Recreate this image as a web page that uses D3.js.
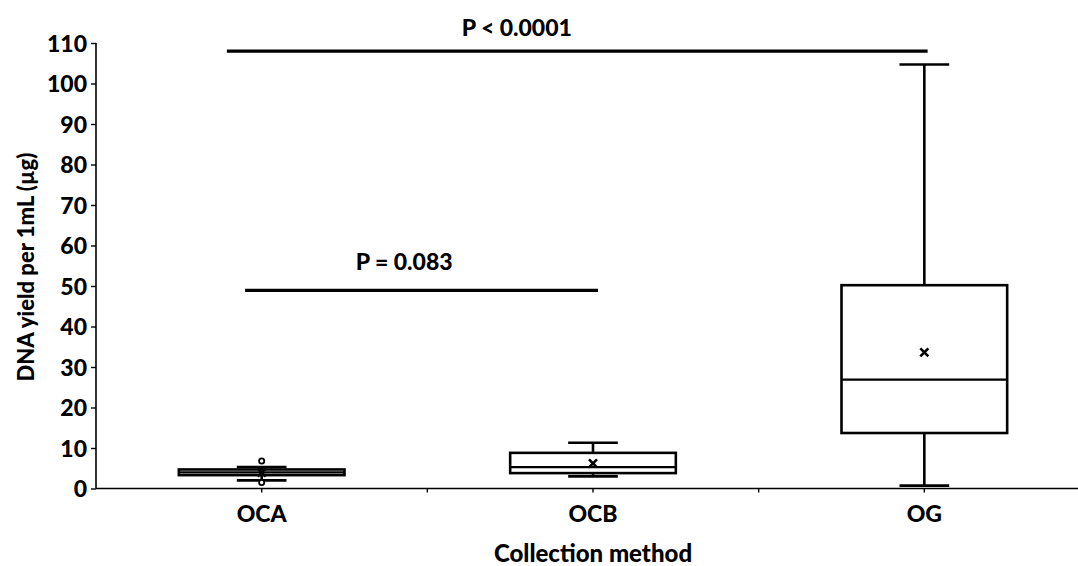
<!DOCTYPE html>
<html>
<head>
<meta charset="utf-8">
<script src="https://cdn.jsdelivr.net/npm/d3@7"></script>
<style>
  html, body { margin: 0; padding: 0; background: #fff; }
  svg { display: block; }
  text { font-family: Lato, "Open Sans", sans-serif; font-weight: bold; fill: #000; }
</style>
</head>
<body>
<svg id="chart" width="1078" height="566"></svg>
<script>
// ---- data ----
const categories = ["OCA", "OCB", "OG"];
const whiskerLow  = [2.0, 3.0, 0.7];
const q1          = [3.3, 3.8, 13.7];
const median      = [4.0, 5.3, 26.9];
const q3          = [4.7, 8.8, 50.2];
const whiskerHigh = [5.3, 11.3, 104.7];
const means       = [3.9, 6.2, 33.6];
const outliers    = [[6.8, 1.5], [], []];
const yTicks      = [0, 10, 20, 30, 40, 50, 60, 70, 80, 90, 100, 110];
const bracketLabels = ["P < 0.0001", "P = 0.083"];
const bracketFrom   = ["OCA", "OCA"];
const bracketTo     = ["OG", "OCB"];
const bracketLevel  = [108.0, 48.9];
const xTitle = "Collection method";
const yTitle = "DNA yield per 1mL (\u00b5g)";

(function () {
// ---- layout ----
const svg = d3.select("#chart");
const mLeft = 96, mRight = 1090, mTop = 43, mBottom = 488.5;

const x = d3.scaleBand().domain(categories).range([mLeft, mRight]).padding(0);
const y = d3.scaleLinear().domain([0, 110]).range([mBottom, mTop]);
const bw = x.bandwidth();
const cx = c => x(c) + bw / 2;

// axes
const yAxis = svg.append("g").attr("transform", `translate(${mLeft},0)`)
  .call(d3.axisLeft(y).tickValues(yTicks).tickSize(5).tickPadding(4));
yAxis.select(".domain").attr("stroke-width", 1.6).attr("d", `M0,${mBottom}V${mTop}`);
yAxis.selectAll(".tick line").attr("stroke-width", 1.4);
yAxis.selectAll(".tick text").style("font-size", "23px").style("font-weight", "900").attr("dy", "0.36em");

const xAxis = svg.append("g").attr("transform", `translate(0,${mBottom})`)
  .call(d3.axisBottom(x).tickSize(4).tickPadding(13));
xAxis.select(".domain").attr("stroke-width", 1.6).attr("d", `M${mLeft},0H${mRight}`);
xAxis.selectAll(".tick line").attr("stroke-width", 1.4);
xAxis.selectAll(".tick text").style("font-size", "23px").style("font-weight", "900");
xAxis.selectAll(".bt").data(categories.slice(1)).enter().append("line")
  .attr("x1", d => x(d)).attr("x2", d => x(d)).attr("y1", 0).attr("y2", 4)
  .attr("stroke", "#000").attr("stroke-width", 1.4);

// titles
svg.append("text").attr("x", cx("OCB")).attr("y", 562)
  .attr("text-anchor", "middle").style("font-size", "24px").style("font-weight", "900").text(xTitle);
svg.append("text").attr("transform", `translate(34,267) rotate(-90)`)
  .attr("text-anchor", "middle").style("font-size", "22px").style("font-weight", "900").text(yTitle);

// ---- boxes ----
const g = svg.append("g");
const boxW = bw * 0.5, capW = bw * 0.15;
categories.forEach((c, i) => {
  const xc = cx(c);
  const sw = 2.6;
  g.append("line").attr("x1", xc).attr("x2", xc).attr("y1", y(whiskerHigh[i])).attr("y2", y(q3[i]))
    .attr("stroke", "#000").attr("stroke-width", sw);
  g.append("line").attr("x1", xc).attr("x2", xc).attr("y1", y(q1[i])).attr("y2", y(whiskerLow[i]))
    .attr("stroke", "#000").attr("stroke-width", sw);
  [whiskerHigh[i], whiskerLow[i]].forEach(v => {
    g.append("line").attr("x1", xc - capW / 2).attr("x2", xc + capW / 2)
      .attr("y1", y(v)).attr("y2", y(v)).attr("stroke", "#000").attr("stroke-width", sw);
  });
  g.append("rect").attr("x", xc - boxW / 2).attr("width", boxW)
    .attr("y", y(q3[i])).attr("height", y(q1[i]) - y(q3[i]))
    .attr("fill", "#fff").attr("stroke", "#000").attr("stroke-width", sw);
  g.append("line").attr("x1", xc - boxW / 2).attr("x2", xc + boxW / 2)
    .attr("y1", y(median[i])).attr("y2", y(median[i])).attr("stroke", "#000").attr("stroke-width", 2.2);
  const s = 4, my = y(means[i]);
  g.append("path").attr("d", `M${xc - s},${my - s}L${xc + s},${my + s}M${xc - s},${my + s}L${xc + s},${my - s}`)
    .attr("stroke", "#000").attr("stroke-width", 2.6);
  outliers[i].forEach(v => {
    g.append("circle").attr("cx", xc).attr("cy", y(v)).attr("r", 2.6)
      .attr("fill", "#fff").attr("stroke", "#000").attr("stroke-width", 1.8);
  });
});

// ---- significance brackets ----
const bracketStartOff = [-0.105, -0.05];
const bracketEndOff = [0.01, 0.015];
const labelOff = [0.77, 0.43];
const labelRise = [23, 29];
bracketLabels.forEach((lab, i) => {
  const x1 = cx(bracketFrom[i]) + bracketStartOff[i] * bw;
  const x2 = cx(bracketTo[i]) + bracketEndOff[i] * bw;
  const yy = y(bracketLevel[i]);
  svg.append("line").attr("x1", x1).attr("x2", x2).attr("y1", yy).attr("y2", yy)
    .attr("stroke", "#000").attr("stroke-width", 3.2);
  svg.append("text").attr("x", cx(bracketFrom[i]) + labelOff[i] * bw).attr("y", yy - labelRise[i])
    .attr("dy", "0.35em").attr("text-anchor", "middle").style("font-size", "23px").style("font-weight", "900").text(lab);
});
})();
</script>
</body>
</html>
